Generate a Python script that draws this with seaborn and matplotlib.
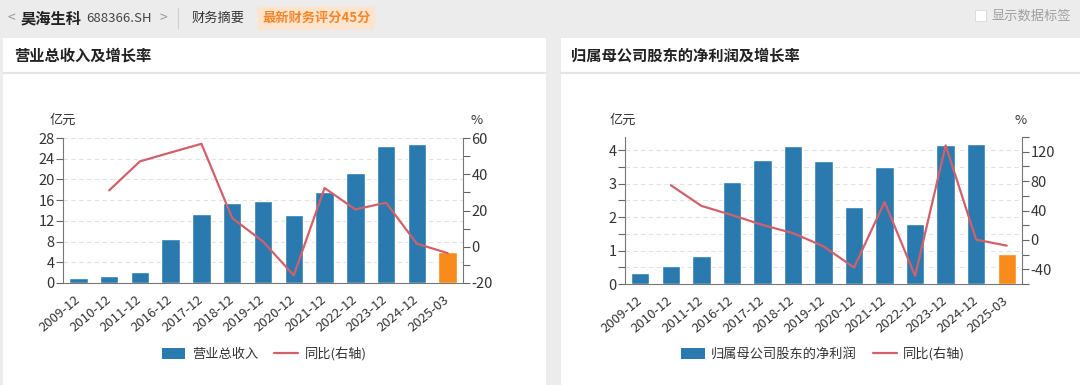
import numpy as np
import pandas as pd
import matplotlib
matplotlib.use("Agg")
import matplotlib.pyplot as plt
import seaborn as sns
from matplotlib.patches import Rectangle, Patch
from matplotlib.lines import Line2D
from matplotlib.ticker import FixedLocator

# ---------------- data ----------------
periods = ["2009-12", "2010-12", "2011-12", "2016-12", "2017-12", "2018-12",
           "2019-12", "2020-12", "2021-12", "2022-12", "2023-12", "2024-12", "2025-03"]
revenue = [1.0, 1.35, 2.06, 8.5, 13.4, 15.4, 15.9, 13.1, 17.5, 21.2, 26.4, 26.8, 6.0]
revenue_yoy = [np.nan, 31.1, 47.1, 52.0, 56.8, 15.8, 2.9, -15.8, 32.4, 20.6, 24.3, 1.7, -3.5]
profit = [0.32, 0.55, 0.83, 3.04, 3.70, 4.13, 3.69, 2.29, 3.50, 1.79, 4.15, 4.19, 0.90]
profit_yoy = [np.nan, 74.4, 46.3, 33.8, 20.4, 9.2, -8.7, -37.7, 51.6, -49.0, 128.6, 0.3, -7.8]

left_title = "营业总收入及增长率"
right_title = "归属母公司股东的净利润及增长率"
left_bar_label = "营业总收入"
right_bar_label = "归属母公司股东的净利润"
line_label = "同比(右轴)"

BLUE = "#2a7aaf"
ORANGE = "#f98b1c"
RED = "#d2606a"
BG = "#ececec"

sns.set_style("white")
plt.rcParams["font.family"] = ["Noto Sans CJK SC", "DejaVu Sans"]
plt.rcParams["axes.unicode_minus"] = False

W, H = 1080, 385
fig = plt.figure(figsize=(W / 100, H / 100), dpi=100)
fig.patch.set_facecolor(BG)


def fx(x):
    return x / W


def fy(y):
    return 1 - y / H


# cards
for x0, x1 in [(3, 546), (561, 1080)]:
    fig.patches.append(Rectangle((fx(x0), 0), fx(x1 - x0), fy(38), transform=fig.transFigure,
                                 facecolor="white", edgecolor="none", zorder=-5))
    fig.add_artist(Line2D([fx(x0), fx(x1)], [fy(73), fy(73)], transform=fig.transFigure,
                          color="#e4e4e4", lw=1.6, zorder=-4))

# header
fig.text(fx(7), fy(18), "<", fontsize=10, color="#999999", va="center")
fig.text(fx(20), fy(18), "昊海生科", fontsize=11, fontweight="bold", color="#222222", va="center")
fig.text(fx(86), fy(18), "688366.SH", fontsize=9.5, color="#444444", va="center")
fig.text(fx(160), fy(18), ">", fontsize=10, color="#999999", va="center")
fig.add_artist(Line2D([fx(178), fx(178)], [fy(8), fy(28)], transform=fig.transFigure,
                      color="#d0d0d0", lw=0.8))
fig.text(fx(192), fy(18), "财务摘要", fontsize=9.5, color="#333333", va="center")
fig.text(fx(262), fy(18), "最新财务评分45分", fontsize=9.5, fontweight="bold", color="#f5862a",
         va="center", bbox=dict(boxstyle="round,pad=0.35,rounding_size=0.3", fc="#fde4cc", ec="none"))
fig.patches.append(Rectangle((fx(975), fy(21)), fx(11), 11 / H, transform=fig.transFigure,
                             facecolor="white", edgecolor="#d8d8d8", lw=0.6, zorder=-3))
fig.text(fx(992), fy(16), "显示数据标签", fontsize=9.5, color="#a0a0a0", va="center")

# card titles
fig.text(fx(14), fy(56), left_title, fontsize=11, fontweight="bold", color="#222222", va="center")
fig.text(fx(571), fy(56), right_title, fontsize=11, fontweight="bold", color="#222222", va="center")


def make_panel(x0, x1, ytop, ybot, bars, yoy, ylim, ylim2, ymaj, ymin, y2maj, y2min,
               bar_label, unit_x, pct_x, legend_x):
    ax = fig.add_axes([fx(x0), fy(ybot), fx(x1 - x0), (ybot - ytop) / H])
    ax.set_facecolor("none")
    df = pd.DataFrame({"period": periods, "value": bars})
    colors = [BLUE] * (len(periods) - 1) + [ORANGE]
    sns.barplot(data=df, x="period", y="value", hue="period", palette=colors, legend=False,
                width=0.6, saturation=1, ax=ax, zorder=2)
    ax.set_xlim(-0.5, len(periods) - 0.5)
    ax.set_ylim(*ylim)
    ax.yaxis.set_major_locator(FixedLocator(ymaj))
    if ymin is not None:
        ax.yaxis.set_minor_locator(FixedLocator(ymin))
    ax.set_xlabel("")
    ax.set_ylabel("")
    grid_levels = sorted(set(list(ymaj) + (list(ymin) if ymin is not None else [])))
    for g in grid_levels:
        if g > ylim[0]:
            ax.axhline(g, color="#e2e2e2", lw=0.8, ls=(0, (4, 3)), zorder=1)
    ax.set_xticks(range(len(periods)))
    ax.set_xticklabels(periods, rotation=40, ha="right", va="center", rotation_mode="anchor",
                       fontsize=9.5, color="#333333")
    ax.tick_params(axis="x", direction="out", length=6, width=0.8, color="#666666", pad=5)
    ax.tick_params(axis="y", which="both", direction="out", length=5, width=0.8,
                   color="#666666", labelsize=10.5, labelcolor="#333333", pad=1)
    for s in ["top", "right"]:
        ax.spines[s].set_visible(False)
    for s in ["left", "bottom"]:
        ax.spines[s].set_color("#777777")
        ax.spines[s].set_linewidth(0.8)

    ax2 = ax.twinx()
    sns.lineplot(x=np.arange(len(periods)), y=yoy, ax=ax2, color=RED, lw=1.6, zorder=3)
    ax2.set_ylim(*ylim2)
    ax2.yaxis.set_major_locator(FixedLocator(y2maj))
    ax2.yaxis.set_minor_locator(FixedLocator(y2min))
    ax2.set_xlim(-0.5, len(periods) - 0.5)
    ax2.set_ylabel("")
    ax2.tick_params(axis="y", which="both", direction="out", length=5, width=0.8,
                    color="#666666", labelsize=10.5, labelcolor="#333333", pad=1)
    for s in ["top", "left", "bottom"]:
        ax2.spines[s].set_visible(False)
    ax2.spines["right"].set_color("#777777")
    ax2.spines["right"].set_linewidth(0.8)
    ax2.grid(False)

    fig.text(fx(unit_x), fy(120), "亿元", fontsize=9.5, color="#333333", ha="center", va="center")
    fig.text(fx(pct_x), fy(120), "%", fontsize=9.5, color="#333333", ha="center", va="center")

    handles = [Patch(facecolor=BLUE, edgecolor="none", label=bar_label),
               Line2D([0], [0], color=RED, lw=1.6, label=line_label)]
    fig.legend(handles=handles, loc="center", bbox_to_anchor=(fx(legend_x), fy(354)),
               ncol=2, frameon=False, fontsize=9.5, handlelength=1.8, handleheight=0.9,
               columnspacing=1.2, handletextpad=0.5, labelcolor="#333333")
    return ax, ax2


make_panel(63, 463, 138, 283, revenue, revenue_yoy, (0, 28), (-20, 60),
           list(range(0, 29, 4)), None, [-20, 0, 20, 40, 60], list(range(-20, 61, 10)),
           left_bar_label, 63, 477, 264)

make_panel(625, 1022, 137, 284, profit, profit_yoy, (0, 4.4), (-60, 140),
           [0, 1, 2, 3, 4], [0.5, 1.5, 2.5, 3.5], [-40, 0, 40, 80, 120], list(range(-60, 141, 20)),
           right_bar_label, 623, 1021, 823)

fig.savefig("out.png", dpi=100, facecolor=fig.get_facecolor())
